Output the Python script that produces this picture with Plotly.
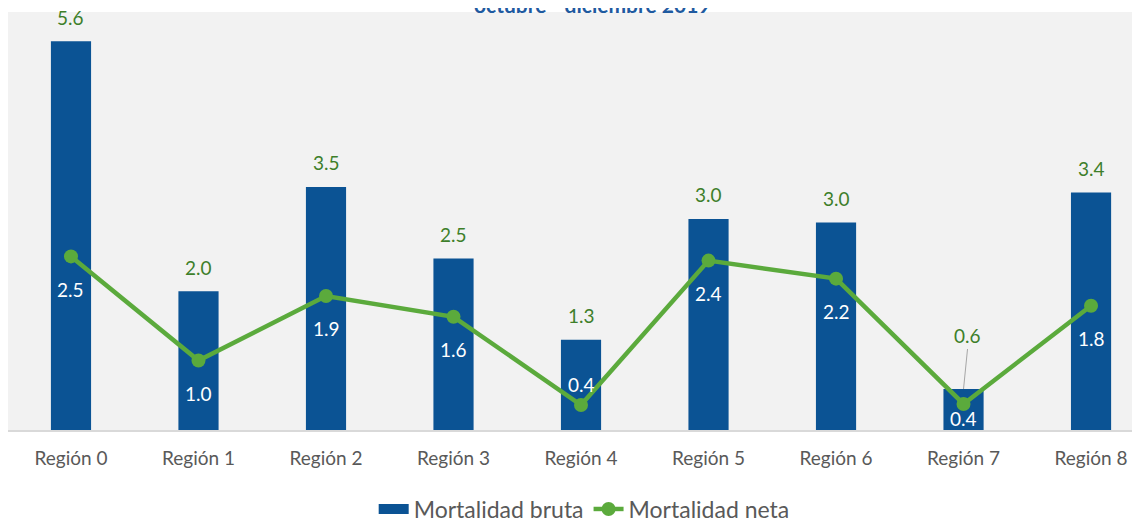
import plotly.graph_objects as go

regions = ["Región 0", "Región 1", "Región 2", "Región 3", "Región 4",
           "Región 5", "Región 6", "Región 7", "Región 8"]
bruta = [5.6, 2.0, 3.5, 2.47, 1.3, 3.04, 2.99, 0.59, 3.42]
neta = [2.5, 1.0, 1.93, 1.63, 0.36, 2.44, 2.18, 0.375, 1.79]
title_text = "octubre - diciembre 2019"

BLUE = "#0B5394"
GREEN = "#5BAA3C"
DGREEN = "#3E7F2A"
FONT = "Lato"

W, H = 1132, 510  # page body has an 8px margin

fig = go.Figure()
fig.add_trace(go.Bar(x=regions, y=bruta, name="Mortalidad bruta", showlegend=False,
                     marker=dict(color=BLUE, line=dict(width=0)), width=0.315))
fig.add_trace(go.Scatter(x=regions, y=neta, name="Mortalidad neta", mode="lines+markers",
                         showlegend=False,
                         line=dict(color=GREEN, width=4.5),
                         marker=dict(color=GREEN, size=14)))
# legend entries
fig.add_trace(go.Scatter(x=[None], y=[None], name="Mortalidad bruta", mode="lines",
                         line=dict(color=BLUE, width=17)))
fig.add_trace(go.Scatter(x=[None], y=[None], name="Mortalidad neta", mode="lines+markers",
                         line=dict(color=GREEN, width=4.5), marker=dict(color=GREEN, size=14)))

for i, (r, v) in enumerate(zip(regions, bruta)):
    if i == 7:
        fig.add_annotation(x=r, y=v, text=f"{v:.1f}", showarrow=True, arrowhead=0,
                           arrowwidth=1, arrowcolor="#A6A6A6", ax=4, ay=-40,
                           font=dict(color=DGREEN, size=19, family=FONT), yanchor="bottom")
    else:
        fig.add_annotation(x=r, y=v, text=f"{v:.1f}", showarrow=False, yshift=24,
                           font=dict(color=DGREEN, size=19, family=FONT))

neta_shift = {4: 21, 7: -15}
for i, (r, v) in enumerate(zip(regions, neta)):
    fig.add_annotation(x=r, y=v, text=f"{v:.1f}", showarrow=False,
                       yshift=neta_shift.get(i, -33),
                       font=dict(color="white", size=19, family=FONT))

fig.add_annotation(xref="paper", yref="paper", x=0.516, y=1.0, yshift=8,
                   text=f"<b>{title_text}</b>", showarrow=False,
                   font=dict(color="#1F5AA0", size=21, family=FONT), yanchor="middle")

fig.update_layout(
    width=W, height=H,
    margin=dict(l=0, r=0, t=4, b=88),
    paper_bgcolor="white", plot_bgcolor="#F2F2F2",
    font=dict(family=FONT, color="#595959", size=19),
    showlegend=True,
    legend=dict(orientation="h", x=0.509, xanchor="center", yref="container",
                y=(H - 501) / H, yanchor="middle",
                font=dict(size=23, color="#595959", family=FONT), traceorder="normal"),
    xaxis=dict(range=[-0.494, 8.384], showgrid=False, showline=True, linecolor="#D9D9D9",
               linewidth=2, ticks="", automargin=False, ticklabelstandoff=10,
               tickfont=dict(size=19, color="#595959")),
    yaxis=dict(range=[0, 6.02], visible=False, showgrid=False, zeroline=False,
               automargin=False),
    bargap=0.6,
)
fig.write_html("out.html")
